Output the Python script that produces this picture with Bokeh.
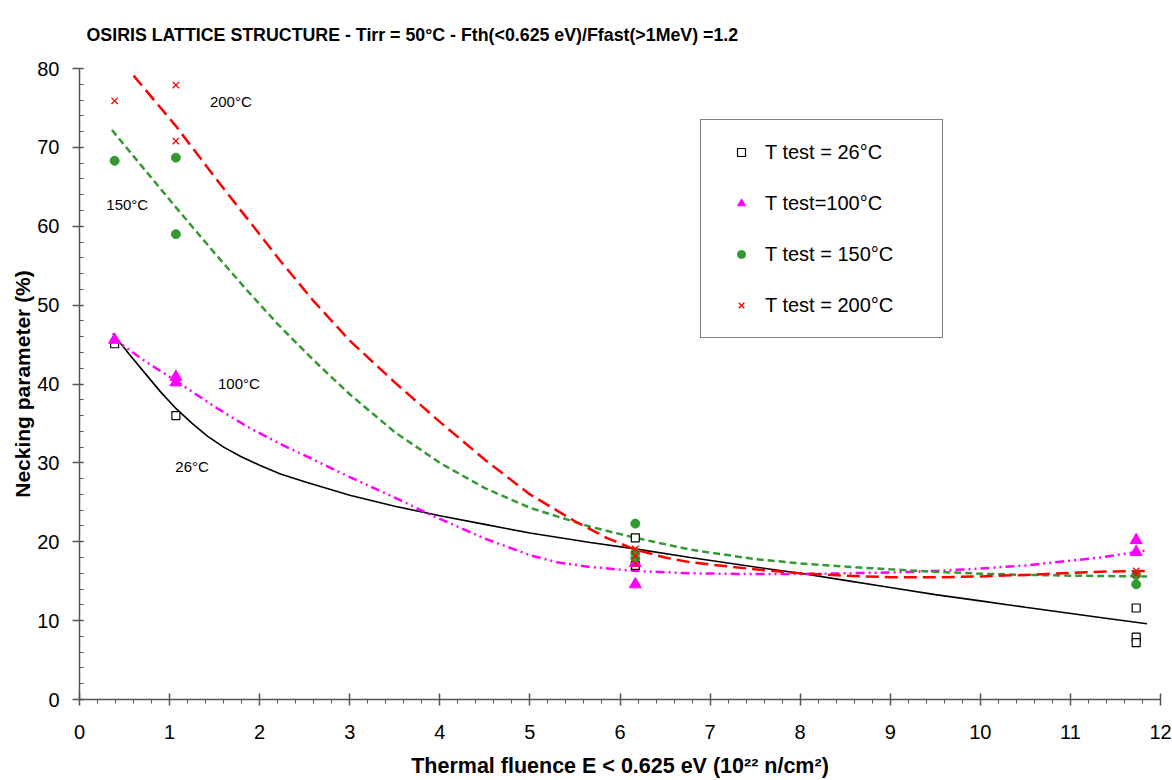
from bokeh.plotting import figure
from bokeh.models import Range1d, SingleIntervalTicker, Label, Legend, LegendItem
from bokeh.embed import file_html
from bokeh.resources import INLINE

# ---------------- data ----------------
title_text = "OSIRIS LATTICE STRUCTURE - Tirr = 50°C - Fth(<0.625 eV)/Ffast(>1MeV) =1.2"
x_label = "Thermal fluence E < 0.625 eV (10²² n/cm²)"
y_label = "Necking parameter (%)"

# measured points
fl26 = [0.39, 1.07, 6.17, 6.17, 11.73, 11.73, 11.73]
nk26 = [45.1, 36.0, 20.5, 17.0, 11.6, 7.9, 7.2]
fl100 = [0.39, 1.07, 1.07, 6.17, 6.17, 11.73, 11.73]
nk100 = [45.6, 40.9, 40.2, 17.3, 14.6, 20.2, 18.7]
fl150 = [0.39, 1.07, 1.07, 6.17, 6.17, 6.17, 11.73, 11.73]
nk150 = [68.3, 68.7, 59.0, 22.3, 18.6, 17.9, 15.8, 14.6]
fl200 = [0.39, 1.07, 1.07, 6.17, 6.17, 6.17, 11.73, 11.73]
nk200 = [75.9, 77.9, 70.8, 19.1, 18.2, 17.2, 16.3, 15.9]

# trend curves
tx26 = [0.37, 0.55, 0.71, 0.9, 1.07, 1.25, 1.42, 1.6, 1.79, 2.0, 2.23, 2.5, 3.0, 3.5, 4.0, 4.5, 5.0, 5.67, 6.17, 6.78, 7.5, 8.0, 8.5, 9.0, 9.5, 10.0, 10.5, 11.33, 11.85]
ty26 = [46.4, 43.8, 41.6, 39.0, 36.9, 35.0, 33.4, 32.0, 30.8, 29.7, 28.6, 27.6, 25.9, 24.5, 23.3, 22.2, 21.1, 19.9, 19.1, 18.0, 16.8, 16.0, 15.1, 14.2, 13.3, 12.5, 11.7, 10.4, 9.6]
tx100 = [0.36, 0.7, 1.07, 1.49, 1.86, 2.23, 2.6, 3.0, 3.5, 3.9, 4.5, 5.0, 5.3, 5.67, 6.17, 6.78, 7.5, 8.0, 8.5, 9.0, 9.5, 10.0, 10.5, 11.33, 11.85]
ty100 = [45.9, 43.1, 40.4, 37.2, 34.6, 32.4, 30.4, 28.2, 25.6, 23.4, 20.4, 18.3, 17.4, 16.8, 16.3, 16.0, 15.9, 15.9, 16.0, 16.1, 16.3, 16.6, 17.0, 18.0, 18.9]
tx150 = [0.36, 0.7, 1.07, 1.5, 1.85, 2.2, 2.6, 3.0, 3.5, 4.0, 4.5, 5.0, 5.67, 6.17, 6.78, 7.5, 8.0, 8.5, 9.0, 9.5, 10.0, 10.5, 11.0, 11.85]
ty150 = [72.2, 67.5, 62.4, 56.6, 52.0, 47.6, 43.0, 38.7, 33.9, 30.0, 26.8, 24.3, 21.9, 20.5, 19.0, 17.8, 17.25, 16.85, 16.5, 16.2, 15.95, 15.8, 15.7, 15.6]
tx200 = [0.6, 1.07, 1.49, 1.86, 2.23, 2.6, 3.0, 3.5, 4.0, 4.5, 5.0, 5.5, 5.85, 6.17, 6.5, 6.78, 7.5, 8.0, 8.5, 9.0, 9.5, 10.0, 10.5, 11.33, 11.85]
ty200 = [79.1, 72.7, 66.4, 61.0, 55.6, 50.5, 45.5, 40.2, 35.2, 30.4, 26.0, 22.6, 20.5, 19.0, 18.0, 17.4, 16.5, 16.0, 15.7, 15.5, 15.5, 15.6, 15.8, 16.2, 16.3]

series_names = ["T test = 26°C", "T test=100°C", "T test = 150°C", "T test = 200°C"]
curve_labels = ["26°C", "100°C", "150°C", "200°C"]
curve_label_x = [1.25, 1.77, 0.53, 1.68]
curve_label_y = [29.6, 40.1, 62.8, 75.8]

FONT = "Liberation Sans"

p = figure(width=1172, height=780, output_backend="svg", toolbar_location=None,
           x_range=Range1d(0, 12), y_range=Range1d(0, 80),
           min_border_left=79, min_border_right=12, min_border_top=68, min_border_bottom=81,
           background_fill_color="white", border_fill_color="white")
p.outline_line_color = None
p.xgrid.visible = False
p.ygrid.visible = False

p.title.text = title_text
p.title.align = "left"
p.title.vertical_align = "top"
p.title.offset = 7
p.title.text_font = FONT
p.title.text_font_size = "17.8px"
p.title.text_font_style = "bold"
p.title.text_color = "black"
p.title.standoff = 44

p.xaxis.ticker = SingleIntervalTicker(interval=1, num_minor_ticks=5)
p.yaxis.ticker = SingleIntervalTicker(interval=10, num_minor_ticks=5)
for ax in (p.xaxis[0], p.yaxis[0]):
    ax.axis_line_color = "#555555"
    ax.axis_line_width = 1.5
    ax.major_tick_line_color = "#555555"
    ax.minor_tick_line_color = "#555555"
    ax.major_tick_line_width = 1.5
    ax.minor_tick_line_width = 1
    ax.major_label_text_font = FONT
    ax.major_label_text_font_size = "20px"
    ax.major_label_text_color = "black"
    ax.axis_label_text_font = FONT
    ax.axis_label_text_font_size = "21px"
    ax.axis_label_text_font_style = "bold"
    ax.axis_label_text_color = "black"

p.xaxis.axis_label = x_label
p.xaxis.axis_label_text_font_size = "21.5px"
p.xaxis.major_tick_in = 6
p.xaxis.major_tick_out = 6
p.xaxis.minor_tick_in = 0
p.xaxis.minor_tick_out = 4
p.xaxis.major_label_standoff = 19
p.xaxis.axis_label_standoff = 12

p.yaxis.axis_label = y_label
p.yaxis.major_tick_in = 4
p.yaxis.major_tick_out = 7
p.yaxis.minor_tick_in = 4
p.yaxis.minor_tick_out = 0
p.yaxis.major_label_standoff = 13
p.yaxis.axis_label_standoff = 0

# trend lines
p.line(tx26, ty26, line_color="black", line_width=1.6)
p.line(tx100, ty100, line_color="#FF00FF", line_width=2.5, line_dash="9 4 2 4 2 4")
p.line(tx150, ty150, line_color="#339933", line_width=2.5, line_dash="7 4")
p.line(tx200, ty200, line_color="#FF0000", line_width=2.5, line_dash="13 6")

# markers
r26 = p.scatter(fl26, nk26, marker="square", size=8, line_color="black", fill_color="white", line_width=1.2)
r100 = p.scatter(fl100, nk100, marker="triangle", size=12, line_color="#FF00FF", fill_color="#FF00FF")
r150 = p.scatter(fl150, nk150, marker="circle", size=9, line_color="#339933", fill_color="#339933")
r200 = p.scatter(fl200, nk200, marker="x", size=9, line_color="#FF0000", line_width=1.3)

for t, lx, ly in zip(curve_labels, curve_label_x, curve_label_y):
    p.add_layout(Label(x=lx, y=ly, text=t, text_align="center", text_baseline="middle",
                       text_font=FONT, text_font_size="15px", text_color="black"))

legend = Legend(items=[LegendItem(label=n, renderers=[r]) for n, r in zip(series_names, [r26, r100, r150, r200])],
                location=(621, 361), padding=20, spacing=27, label_height=24, glyph_height=20,
                glyph_width=40, label_standoff=4, label_width=157,
                label_text_font=FONT, label_text_font_size="20px", label_text_color="black",
                border_line_color="black", border_line_width=1.2, background_fill_color="white",
                background_fill_alpha=1.0, margin=0)
p.add_layout(legend, "center")

open("out.html", "w").write(file_html(p, INLINE))
